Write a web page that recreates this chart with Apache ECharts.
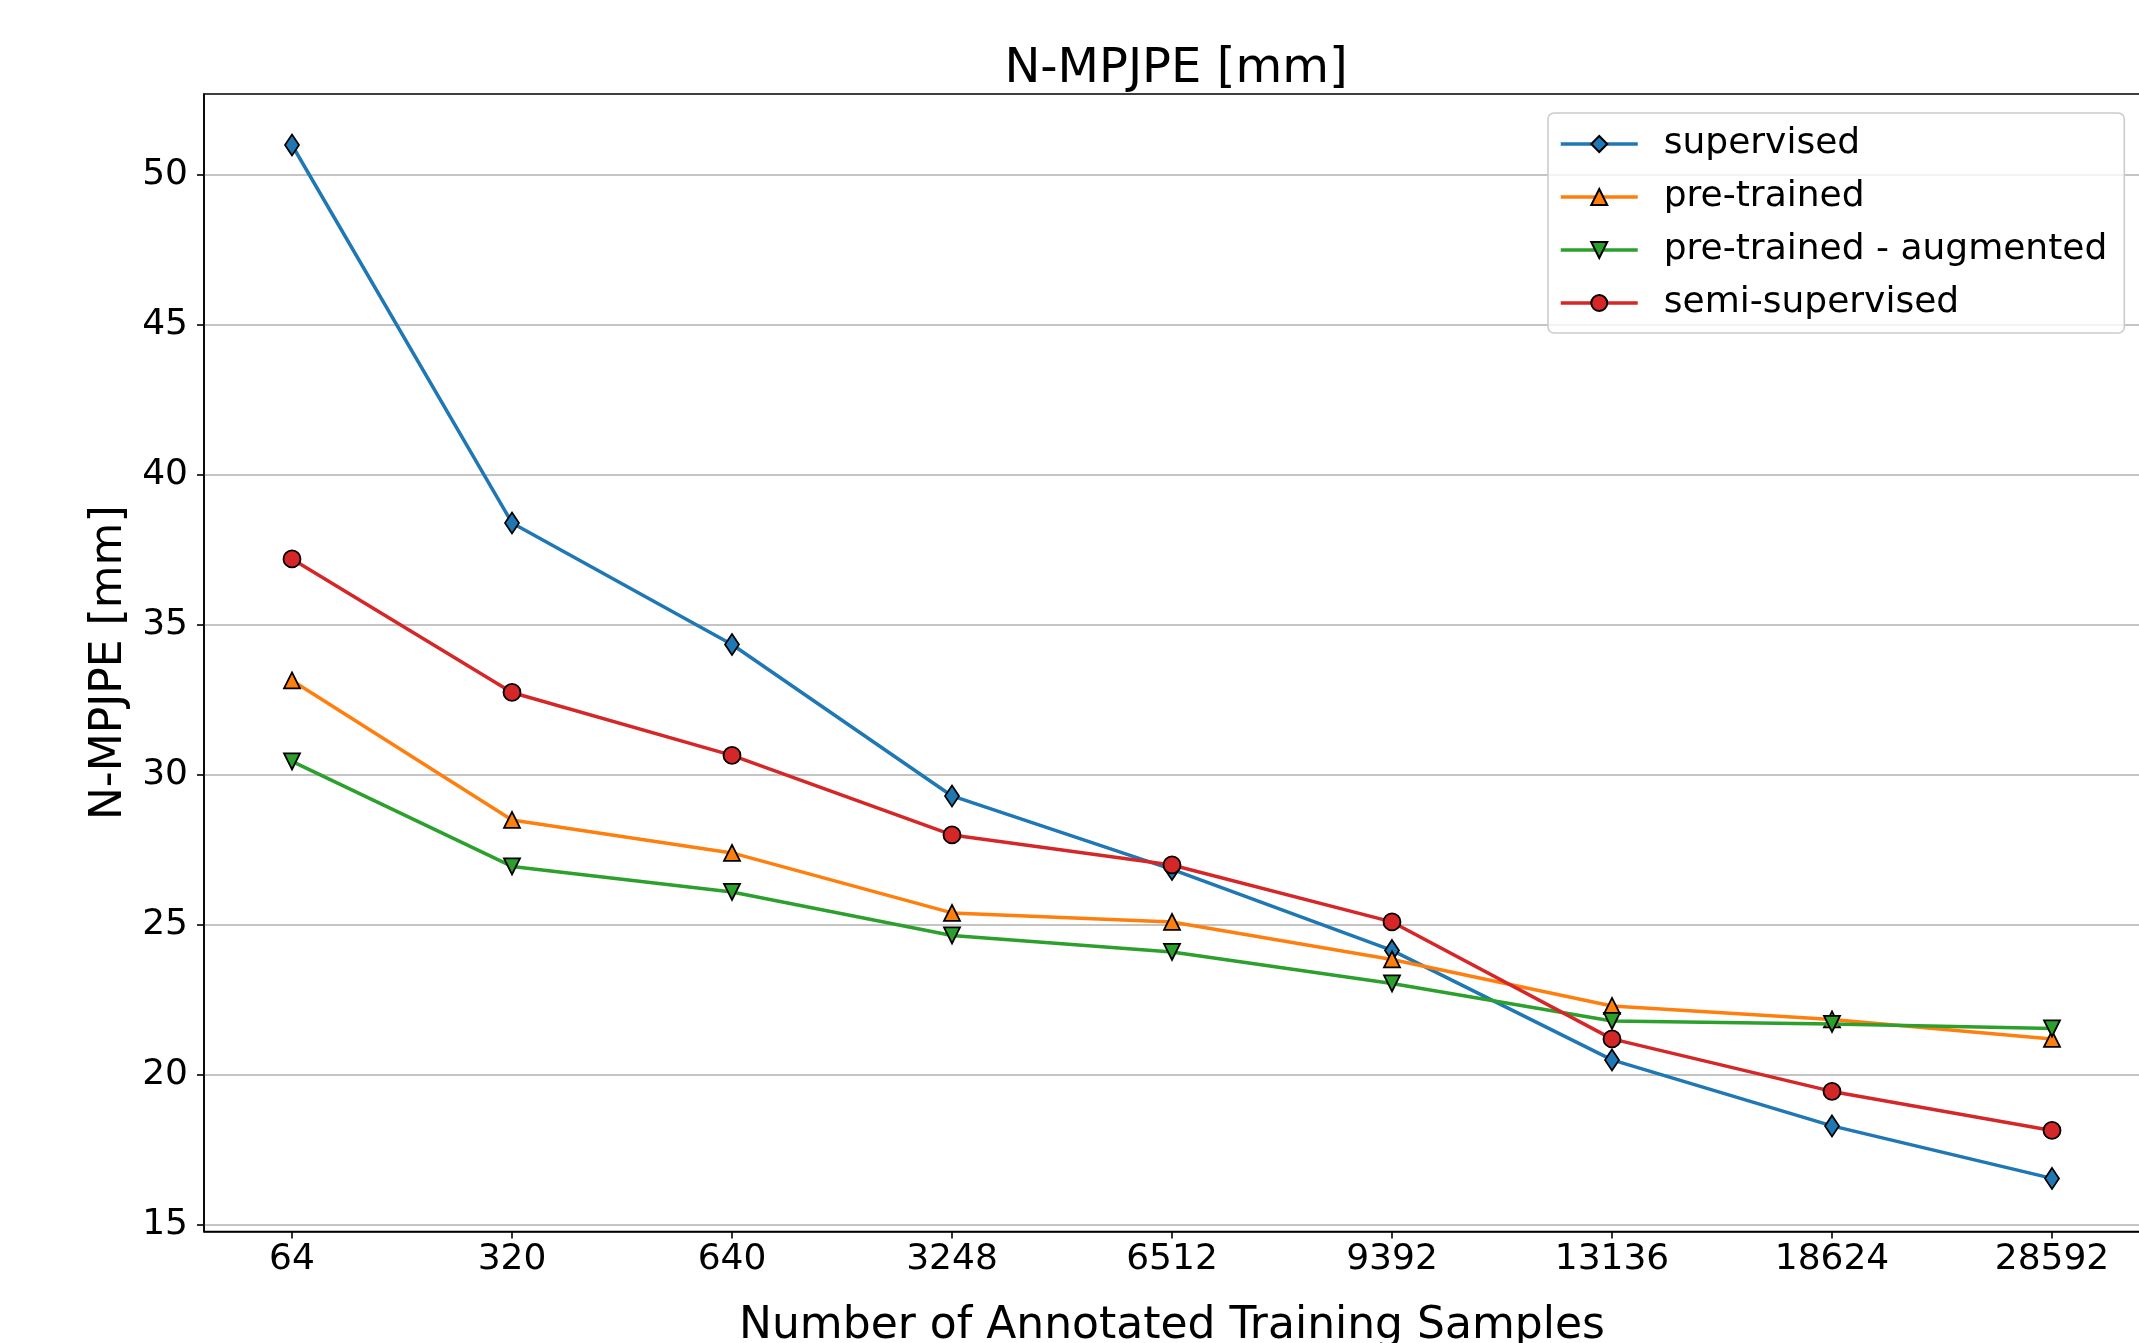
<!DOCTYPE html>
<html>
<head>
<meta charset="utf-8">
<title>N-MPJPE [mm]</title>
<script src="https://cdn.jsdelivr.net/npm/echarts@6/dist/echarts.min.js"></script>
<style>
  html, body { margin: 0; padding: 0; background: #fff; }
  #chart { width: 2139px; height: 1343px; }
</style>
</head>
<body>
<div id="chart"></div>
<script>
// x categories: number of annotated training samples
const sampleLabels = ['64', '320', '640', '3248', '6512', '9392', '13136', '18624', '28592']
const yTicks = [15, 20, 25, 30, 35, 40, 45, 50]

// N-MPJPE [mm]
const supervised = [51.0, 38.4, 34.35, 29.3, 26.85, 24.15, 20.5, 18.3, 16.55]
const preTrained = [33.15, 28.5, 27.4, 25.4, 25.1, 23.85, 22.3, 21.85, 21.2]
const preTrainedAug = [30.45, 26.95, 26.1, 24.65, 24.1, 23.05, 21.8, 21.7, 21.55]
const semiSupervised = [37.2, 32.75, 30.65, 28.0, 27.0, 25.1, 21.2, 19.45, 18.15]

const font = 'DejaVu Sans'
const xIdx = sampleLabels.map((_, i) => i)

function lineSeries(name, values, color, symbol, size, rotate, z) {
  return {
    name: name,
    type: 'line',
    z: z,
    data: values.map((v, i) => [i, v]),
    symbol: symbol,
    symbolSize: size,
    symbolRotate: rotate,
    showAllSymbol: true,
    lineStyle: { color: color, width: 3.5 },
    itemStyle: { color: color, borderColor: '#000', borderWidth: 1.8 },
    emphasis: { disabled: true }
  }
}

const chart = echarts.init(document.getElementById('chart'))
chart.setOption({
  animation: false,
  backgroundColor: '#fff',
  title: {
    text: 'N-MPJPE [mm]',
    left: 1171,
    top: 41,
    textAlign: 'center',
    textStyle: { fontFamily: font, fontSize: 48, fontWeight: 'normal', color: '#000' }
  },
  legend: {
    orient: 'vertical',
    left: 1548,
    top: 113,
    padding: [11, 17, 10, 11],
    itemWidth: 77,
    itemHeight: 20,
    itemGap: 13,
    backgroundColor: 'rgba(255, 255, 255, 0.8)',
    borderColor: '#cccccc',
    borderWidth: 1.6,
    borderRadius: 6,
    lineStyle: { width: 3.5 },
    textStyle: { fontFamily: font, fontSize: 36, color: '#000', lineHeight: 40, padding: [0, 0, 0, 21] },
    data: ['supervised', 'pre-trained', 'pre-trained - augmented', 'semi-supervised']
  },
  grid: {
    left: 204,
    top: 94,
    width: 1936,
    height: 1137.5,
    containLabel: false,
    outerBoundsMode: 'none',
    show: true,
    borderColor: '#000',
    borderWidth: 1.6
  },
  xAxis: {
    type: 'value',
    min: -0.4,
    max: 8.4,
    name: 'Number of Annotated Training Samples',
    nameLocation: 'middle',
    nameGap: 73,
    nameTextStyle: { fontFamily: font, fontSize: 44, color: '#000' },
    axisLine: { show: true, onZero: false, lineStyle: { color: '#000', width: 1.6 } },
    axisTick: { show: true, length: 7, lineStyle: { color: '#000', width: 1.6 }, customValues: xIdx },
    axisLabel: {
      customValues: xIdx,
      formatter: v => sampleLabels[v],
      fontFamily: font,
      fontSize: 36,
      color: '#000',
      margin: 10
    },
    splitLine: { show: false }
  },
  yAxis: {
    type: 'value',
    min: 14.78,
    max: 52.7,
    minInterval: 5,
    maxInterval: 5,
    name: 'N-MPJPE [mm]',
    nameLocation: 'middle',
    nameRotate: 90,
    nameGap: 63,
    nameTextStyle: { fontFamily: font, fontSize: 44, color: '#000' },
    axisLine: { show: true, onZero: false, lineStyle: { color: '#000', width: 1.6 } },
    axisTick: { show: true, length: 7, lineStyle: { color: '#000', width: 1.6 }, customValues: yTicks },
    axisLabel: {
      customValues: yTicks,
      fontFamily: font,
      fontSize: 36,
      color: '#000',
      margin: 16
    },
    splitLine: { show: true, lineStyle: { color: '#b0b0b0', width: 1.5 } }
  },
  series: [
    lineSeries('supervised', supervised, '#1f77b4', 'diamond', [14, 21], 0, 2),
    lineSeries('pre-trained', preTrained, '#ff7f0e', 'triangle', 16, 0, 3),
    lineSeries('pre-trained - augmented', preTrainedAug, '#2ca02c', 'triangle', 16, 180, 4),
    lineSeries('semi-supervised', semiSupervised, '#d62728', 'circle', 17, 0, 5)
  ]
})
</script>
</body>
</html>
